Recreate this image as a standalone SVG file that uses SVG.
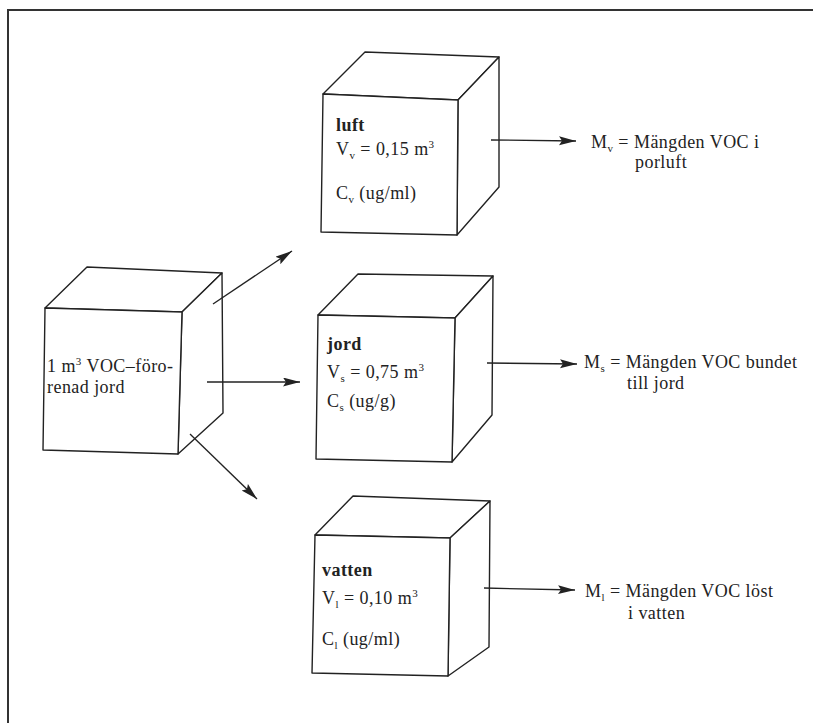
<svg xmlns="http://www.w3.org/2000/svg" width="813" height="723" viewBox="0 0 813 723">
<style>
.face{fill:#fff;stroke:#222;stroke-width:1.4;stroke-linejoin:round}
.edge{fill:none;stroke:#222;stroke-width:1.3}
.t{font-family:"Liberation Serif","Times New Roman",serif;font-size:18px;fill:#222;letter-spacing:0.45px}
.b{font-weight:bold}
.s{font-size:11px}
</style>
<defs>
<marker id="ah" markerUnits="userSpaceOnUse" markerWidth="20" markerHeight="10" refX="17" refY="4.5" orient="auto">
<path d="M0,0 L17,4.5 L0,9 L3,4.5 z" fill="#222"/>
</marker>
</defs>
<rect width="813" height="723" fill="#fff"/>
<g id="frame">
<line x1="8" y1="10" x2="813" y2="10" stroke="#333" stroke-width="2"/>
<line x1="8" y1="9" x2="8" y2="723" stroke="#333" stroke-width="2"/>
</g>

<g id="node-source">
<polygon class="face" points="45,308 87,267 222,273 182,312"/>
<polygon class="face" points="182,312 222,273 223,413 178,454"/>
<polygon class="face" points="45,308 182,312 178,454 43,450"/>
<text class="t" x="47" y="372" letter-spacing="0.7">1 m<tspan class="s" dy="-7">3</tspan><tspan dy="7"> VOC–föro-</tspan></text>
<text class="t" x="47" y="393" letter-spacing="0.7">renad jord</text>
</g>

<g id="node-luft">
<polygon class="face" points="323,94 365,52 499,57 458,100"/>
<polygon class="face" points="458,100 499,57 499,187 457,235"/>
<polygon class="face" points="323,94 458,100 457,235 321,232"/>
<text class="t b" x="336" y="131">luft</text>
<text class="t" x="336" y="155">V<tspan class="s" dy="4">v</tspan><tspan dy="-4"> = 0,15 m</tspan><tspan class="s" dy="-7">3</tspan></text>
<text class="t" x="336" y="199">C<tspan class="s" dy="4">v</tspan><tspan dy="-4"> (ug/ml)</tspan></text>
</g>

<g id="node-jord">
<polygon class="face" points="318,315 358,274 493,276 455,318"/>
<polygon class="face" points="455,318 493,276 492,415 452,462"/>
<polygon class="face" points="318,315 455,318 452,462 316,459"/>
<text class="t b" x="327" y="350" letter-spacing="1.2">jord</text>
<text class="t" x="327" y="378">V<tspan class="s" dy="4">s</tspan><tspan dy="-4"> = 0,75 m</tspan><tspan class="s" dy="-7">3</tspan></text>
<text class="t" x="327" y="407">C<tspan class="s" dy="4">s</tspan><tspan dy="-4"> (ug/g)</tspan></text>
</g>

<g id="node-vatten">
<polygon class="face" points="315,535 353,496 490,501 450,538"/>
<polygon class="face" points="450,538 490,501 489,647 448,676"/>
<polygon class="face" points="315,535 450,538 448,676 312,673"/>
<text class="t b" x="322" y="576">vatten</text>
<text class="t" x="322" y="604">V<tspan class="s" dy="4">l</tspan><tspan dy="-4"> = 0,10 m</tspan><tspan class="s" dy="-7">3</tspan></text>
<text class="t" x="322" y="645">C<tspan class="s" dy="4">l</tspan><tspan dy="-4"> (ug/ml)</tspan></text>
</g>

<g id="connectors">
<line class="edge" x1="213" y1="304" x2="292" y2="251" marker-end="url(#ah)"/>
<line class="edge" x1="207" y1="382" x2="300" y2="382" marker-end="url(#ah)"/>
<line class="edge" x1="190" y1="434" x2="257" y2="499" marker-end="url(#ah)"/>
<line class="edge" x1="491" y1="140" x2="576" y2="141" marker-end="url(#ah)"/>
<line class="edge" x1="487" y1="363" x2="577" y2="364" marker-end="url(#ah)"/>
<line class="edge" x1="484" y1="588" x2="575" y2="590" marker-end="url(#ah)"/>
</g>

<g id="label-mv">
<text class="t" x="591" y="148">M<tspan class="s" dy="4">v</tspan><tspan dy="-4"> = Mängden VOC i</tspan></text>
<text class="t" x="635" y="168">porluft</text>
</g>
<g id="label-ms">
<text class="t" x="584" y="368">M<tspan class="s" dy="4">s</tspan><tspan dy="-4"> = Mängden VOC bundet</tspan></text>
<text class="t" x="627" y="389">till jord</text>
</g>
<g id="label-ml">
<text class="t" x="585" y="597">M<tspan class="s" dy="4">l</tspan><tspan dy="-4"> = Mängden VOC löst</tspan></text>
<text class="t" x="628" y="619">i vatten</text>
</g>
</svg>
